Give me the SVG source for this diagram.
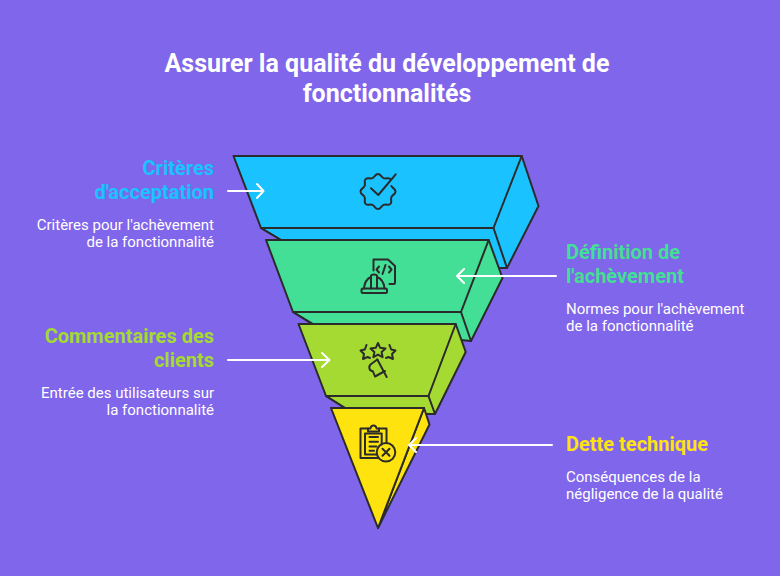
<svg xmlns="http://www.w3.org/2000/svg" width="780" height="576" viewBox="0 0 780 576">
<style>
text{font-family:Roboto,"Liberation Sans",sans-serif}
.t{font-size:25px;font-weight:700;fill:#fff;text-anchor:middle}
.h{font-size:20px;font-weight:700}
.d{font-size:15px;font-weight:400;fill:#fff}
.e{text-anchor:end}
.s{stroke:#2b2b2b;stroke-width:2;stroke-linejoin:round;stroke-linecap:round}
.i{fill:none;stroke:#2b2b2b;stroke-width:2;stroke-linejoin:round;stroke-linecap:round}
.a{fill:none;stroke:#fff;stroke-width:2;stroke-linecap:round;stroke-linejoin:round}
</style>
<rect width="780" height="576" fill="#7f66ea"/>
<text class="t" x="387" y="72">Assurer la qualité du développement de</text>
<text class="t" x="387" y="102">fonctionnalités</text>
<g id="node-criteres">
<path class="s" fill="#1ac3ff" d="M521.7 156L538.5 206L507 268L497 268L281 240L261 228Z"/>
<path class="s" fill="none" d="M261 228L281 240M493.5 228L507 268"/>
<path class="s" fill="#1ac3ff" d="M233.500 156H521.700L493.500 228H261Z"/>
<path class="i" d="M391.400 185.950C392.550 188.700 395.500 188.500 395.500 191.500S392.550 194.280 391.400 197.050S392.500 201.800 390.400 203.900S386.300 203.750 383.550 204.900S381 209 378 209S375.200 206.050 372.450 204.900S367.700 206 365.600 203.900S365.750 199.800 364.600 197.050S360.500 194.500 360.500 191.500S363.450 188.700 364.600 185.950S363.500 181.200 365.600 179.100S369.700 179.250 372.450 178.100S375 174 378 174S380.800 176.950 383.550 178.100S388.300 177 390.400 179.100"/>
<path class="i" d="M371 188.300L378.300 195L395.700 174.300"/>
</g>
<g id="node-definition">
<path class="s" fill="#44df96" d="M488.700 240L502.500 278L471 341L461 340L312 324L293 312Z"/>
<path class="s" fill="none" d="M293 312L313 324M461 312L471 341"/>
<path class="s" fill="#44df96" d="M266 240H488.700L461 312H293Z"/>
<path class="i" d="M373.500 270.500V259.500H388L395 266V283C395 284 394.500 284 394 284H389.500"/>
<path class="i" d="M379 266.500L376.500 269.500L379 272.500M389 266.500L391.500 269.500L389 272.500M385.500 265L382.500 274"/>
<path class="i" d="M361.500 290C361.500 289 362 288.500 363 288.500H385.500C386.500 288.500 387 289 387 290V291.500C387 292.500 386.500 293 385.500 293H363C362 293 361.500 292.500 361.500 291.500Z"/>
<path class="i" d="M364 288.500C364.500 282.500 367.500 278.500 371 277M384.500 288.500C384 282.500 381 278.500 377 277M371 288.500V276C371 275 372.500 274.500 374 274.500C375.500 274.500 377 275 377 276V288.500"/>
</g>
<g id="node-commentaires">
<path class="s" fill="#a5da33" d="M455.700 324L465.700 352L435 414L428 414L345 408L326 396Z"/>
<path class="s" fill="none" d="M326 396L345 408M428.500 396L435 414"/>
<path class="s" fill="#a5da33" d="M298.500 324H455.700L428.500 396H326Z"/>
<path class="i" d="M378 343L380.200 347.800L385.500 348.500L381.600 352L382.600 357.200L378 354.600L373.400 357.200L374.400 352L370.500 348.500L375.800 347.800Z"/>
<path class="i" d="M366.500 345L364.800 349.500L360.500 350.500L364 354L363 359L367.500 357L370 358"/>
<path class="i" d="M389.500 345L391.200 349.500L395.500 350.500L392 354L393 359L388.500 357L386 358"/>
<path class="i" d="M377.300 359.500L370.500 364.500C369 366 369 368 370 370L373 371.500L375 376.500L385 371"/>
<path class="i" d="M377.300 359.500L386.700 377"/>
</g>
<g id="node-dette">
<path class="s" fill="#ffe30f" d="M424 408L429.500 424.500L378 528Z"/>
<path class="s" fill="#ffe30f" d="M331 408H424L378 528Z"/>
<path class="i" d="M368 428.500H360.500V458H377.500M386.500 443V428.500H379"/>
<path class="i" d="M368 431.500V428.500H370.500C371 424.500 376 424.500 376.500 428.500H379V431.500Z"/>
<path class="i" d="M376 454.500H365V433.500H381.700V444.500"/>
<path class="i" d="M369.500 437H378M369.500 441.700H378M369.500 446.500H376.500M369.500 450.700H374"/>
<circle class="i" cx="386" cy="452.300" r="9.300"/>
<path class="i" d="M382.500 448.800L389.500 455.800M389.500 448.800L382.500 455.800"/>
</g>
<g id="connectors">
<path class="a" d="M228 191H263M257 184L263.500 191L257 198"/>
<path class="a" d="M556 276H457M464 269L457 276L464 283"/>
<path class="a" d="M228 360H329M322 353L329.500 360L322 367"/>
<path class="a" d="M552 445H409M416 438L409 445L416 452"/>
</g>
<g id="label-criteres">
<text class="h e" x="214" y="175" fill="#1ac3ff">Critères</text>
<text class="h e" x="214" y="199" fill="#1ac3ff">d'acceptation</text>
<text class="d e" x="214" y="230">Critères pour l'achèvement</text>
<text class="d e" x="214" y="247">de la fonctionnalité</text>
</g>
<g id="label-definition">
<text class="h" x="566" y="259" fill="#44df96">Définition de</text>
<text class="h" x="566" y="283" fill="#44df96">l'achèvement</text>
<text class="d" x="566" y="314">Normes pour l'achèvement</text>
<text class="d" x="566" y="331">de la fonctionnalité</text>
</g>
<g id="label-commentaires">
<text class="h e" x="214" y="343" fill="#a5da33">Commentaires des</text>
<text class="h e" x="214" y="367" fill="#a5da33">clients</text>
<text class="d e" x="214" y="398">Entrée des utilisateurs sur</text>
<text class="d e" x="214" y="415">la fonctionnalité</text>
</g>
<g id="label-dette">
<text class="h" x="566" y="451" fill="#ffe30f">Dette technique</text>
<text class="d" x="566" y="482">Conséquences de la</text>
<text class="d" x="566" y="499">négligence de la qualité</text>
</g>
</svg>
